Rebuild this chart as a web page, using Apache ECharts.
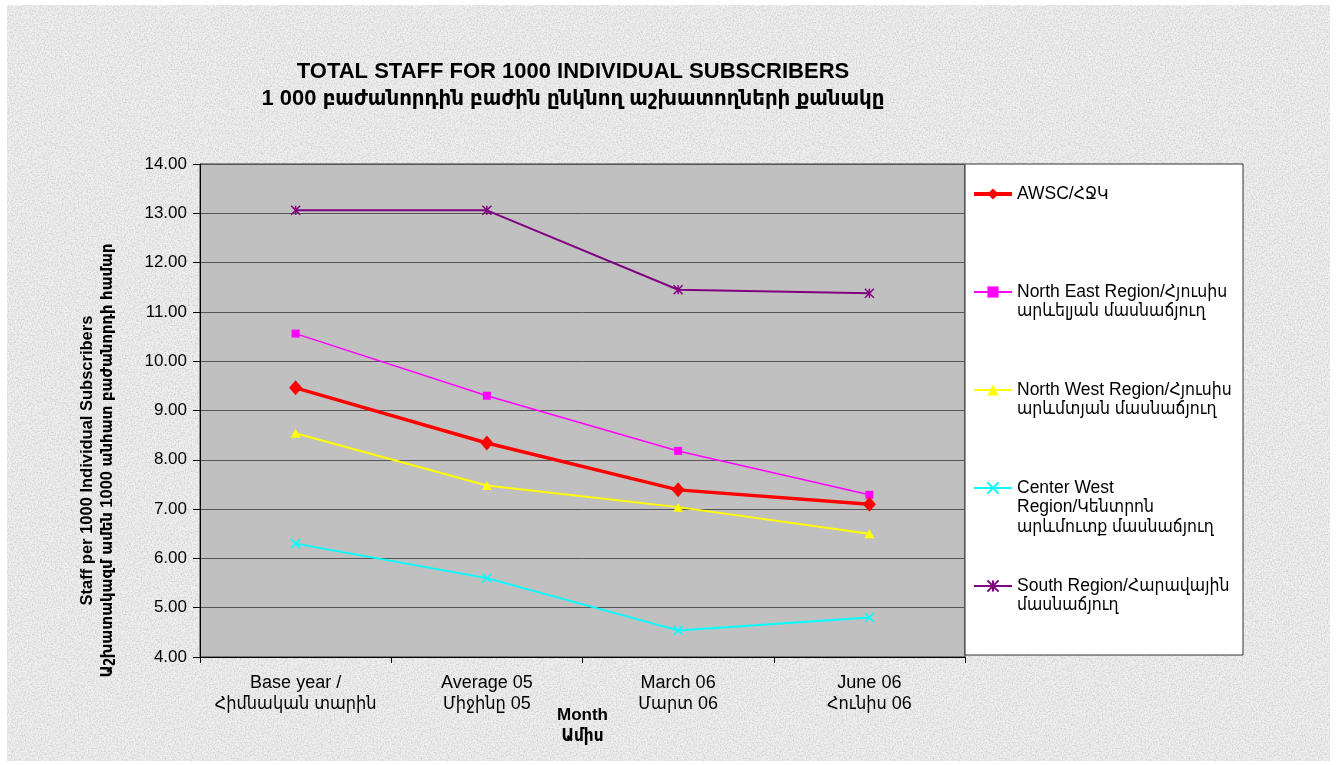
<!DOCTYPE html>
<html>
<head>
<meta charset="utf-8">
<title>Total staff for 1000 individual subscribers</title>
<script src="https://cdn.jsdelivr.net/npm/echarts@6/dist/echarts.min.js"></script>
<style>
  html, body { margin: 0; padding: 0; background: #ffffff; }
  .page { position: relative; width: 1336px; height: 765px; overflow: hidden; }
  .paper {
    position: absolute; left: 7px; top: 5px; width: 1323px; height: 756px;
    background-color: #f0f0f0;
    background-image: url("data:image/svg+xml;utf8,<svg xmlns='http://www.w3.org/2000/svg' width='256' height='256'><filter id='n' x='0' y='0'><feTurbulence type='fractalNoise' baseFrequency='0.7' numOctaves='3' stitchTiles='stitch'/><feColorMatrix type='matrix' values='0 0 0 0 0.6  0 0 0 0 0.6  0 0 0 0 0.6  0 0 0 1.9 -0.72'/></filter><rect width='256' height='256' filter='url(%23n)'/></svg>");
  }
  #main { position: absolute; left: 0; top: 0; width: 1336px; height: 765px; }
</style>
</head>
<body>
<div class="page">
  <div class="paper"></div>
  <div id="main"></div>
</div>
<script>
// categories (x axis)
const categories = [
  'Base year /\nՀիմնական տարին',
  'Average 05\nՄիջինը 05',
  'March 06\nՄարտ 06',
  'June 06\nՀունիս 06'
]

// series values
const awsc = [9.46, 8.34, 7.39, 7.10]
const northEast = [10.56, 9.30, 8.18, 7.29]
const northWest = [8.54, 7.48, 7.04, 6.50]
const centerWest = [6.30, 5.60, 4.54, 4.80]
const south = [13.06, 13.06, 11.45, 11.38]

// series names (legend labels)
const seriesNames = [
  'AWSC/ՀՋԿ',
  'North East Region/Հյուսիս\nարևելյան մասնաճյուղ',
  'North West Region/Հյուսիս\nարևմտյան մասնաճյուղ',
  'Center West\nRegion/Կենտրոն\nարևմուտք մասնաճյուղ',
  'South Region/Հարավային\nմասնաճյուղ'
]

// y axis range
const yMin = 4
const yMax = 14
const yStep = 1

const FONT = '"Liberation Sans", Arial, "DejaVu Sans Condensed", "DejaVu Sans", sans-serif'
const LINE_H = 19.6
const MAX_LINES = 3

const crossPath = 'path://M0,0L10,10M10,0L0,10'
const starPath = 'path://M0,0L10,10M10,0L0,10M5,0L5,10'

function lineCount(name) {
  return name.split('\n').length
}

// legend: the label is centred on the icon, so blank lines are put in
// front of it to bring the first line level with the icon, and padding
// makes every item the same height
function legendItem(name, i) {
  const n = lineCount(name)
  const p = (MAX_LINES - n) * LINE_H
  const item = {
    name: name,
    textStyle: {
      padding: [p, 0, p, 0],
      backgroundColor: 'rgba(255,255,255,0)'
    }
  }
  if (i === 0) item.lineStyle = { width: 4 }
  return item
}

const myChart = echarts.init(document.getElementById('main'))
const option = {
  backgroundColor: 'transparent',
  animation: false,
  textStyle: { fontFamily: FONT },
  title: {
    text: 'TOTAL STAFF FOR 1000 INDIVIDUAL SUBSCRIBERS\n1 000 բաժանորդին բաժին ընկնող աշխատողների քանակը',
    left: 573,
    top: 58,
    textAlign: 'center',
    padding: 0,
    textStyle: {
      fontFamily: FONT,
      fontSize: 22,
      fontWeight: 'bold',
      color: '#000',
      lineHeight: 27
    }
  },
  graphic: [
    {
      // white legend box
      type: 'rect',
      z: 0,
      shape: { x: 965, y: 164, width: 278, height: 491 },
      style: { fill: '#ffffff', stroke: '#333333', lineWidth: 1 }
    }
  ],
  legend: {
    orient: 'vertical',
    left: 972,
    top: 194 - (2 * MAX_LINES - 1) * LINE_H / 2,
    padding: 0,
    itemGap: 0,
    itemWidth: 38,
    itemHeight: 14,
    selectedMode: false,
    formatter: function (name) {
      return '\n'.repeat(lineCount(name) - 1) + name
    },
    textStyle: {
      fontFamily: FONT,
      fontSize: 17.5,
      color: '#000',
      lineHeight: LINE_H
    },
    data: seriesNames.map(legendItem)
  },
  grid: {
    left: 200,
    top: 164,
    right: 371,
    bottom: 108,
    show: true,
    backgroundColor: '#c0c0c0',
    borderColor: '#333333',
    borderWidth: 1
  },
  xAxis: {
    type: 'category',
    data: categories,
    boundaryGap: true,
    name: 'Month\nԱմիս',
    nameLocation: 'middle',
    nameGap: 48,
    nameMoveOverlap: false,
    nameTextStyle: {
      fontFamily: FONT,
      fontSize: 17,
      fontWeight: 'bold',
      color: '#000',
      lineHeight: 21
    },
    axisLine: { lineStyle: { color: '#000', width: 1 } },
    axisTick: { show: true, length: 6, lineStyle: { color: '#000' } },
    axisLabel: {
      margin: 16,
      fontSize: 18,
      color: '#000',
      lineHeight: 21,
      interval: 0
    },
    splitLine: { show: false }
  },
  yAxis: {
    type: 'value',
    min: yMin,
    max: yMax,
    interval: yStep,
    name: 'Staff per 1000 Individual Subscribers\nԱշխատակազմ ամեն 1000 անհատ բաժանորդի համար',
    nameLocation: 'middle',
    nameGap: 83,
    nameMoveOverlap: false,
    nameTextStyle: {
      fontFamily: FONT,
      fontSize: 16.5,
      fontWeight: 'bold',
      color: '#000',
      lineHeight: 20,
      padding: [0, 100, 0, 0]
    },
    axisLine: { show: true, lineStyle: { color: '#000', width: 1 } },
    axisTick: { show: true, length: 7, lineStyle: { color: '#000' } },
    axisLabel: {
      margin: 13,
      fontSize: 17,
      color: '#000',
      formatter: function (v) { return v.toFixed(2) }
    },
    splitLine: { lineStyle: { color: '#555555', width: 1 } }
  },
  series: [
    {
      name: seriesNames[0],
      type: 'line',
      data: awsc,
      z: 5,
      symbol: 'diamond',
      symbolSize: [13, 15],
      lineStyle: { color: '#ff0000', width: 3.5 },
      itemStyle: { color: '#ff0000' }
    },
    {
      name: seriesNames[1],
      type: 'line',
      data: northEast,
      symbol: 'rect',
      symbolSize: 8,
      lineStyle: { color: '#ff00ff', width: 1.5 },
      itemStyle: { color: '#ff00ff' }
    },
    {
      name: seriesNames[2],
      type: 'line',
      data: northWest,
      symbol: 'triangle',
      symbolSize: [10, 9],
      lineStyle: { color: '#ffff00', width: 2 },
      itemStyle: { color: '#ffff00' }
    },
    {
      name: seriesNames[3],
      type: 'line',
      data: centerWest,
      symbol: crossPath,
      symbolSize: 9,
      lineStyle: { color: '#00ffff', width: 2 },
      itemStyle: { color: '#00ffff', borderColor: '#00ffff', borderWidth: 1.5 }
    },
    {
      name: seriesNames[4],
      type: 'line',
      data: south,
      symbol: starPath,
      symbolSize: 9,
      lineStyle: { color: '#800080', width: 2 },
      itemStyle: { color: '#800080', borderColor: '#800080', borderWidth: 1.5 }
    }
  ]
}

myChart.setOption(option)
</script>
</body>
</html>
